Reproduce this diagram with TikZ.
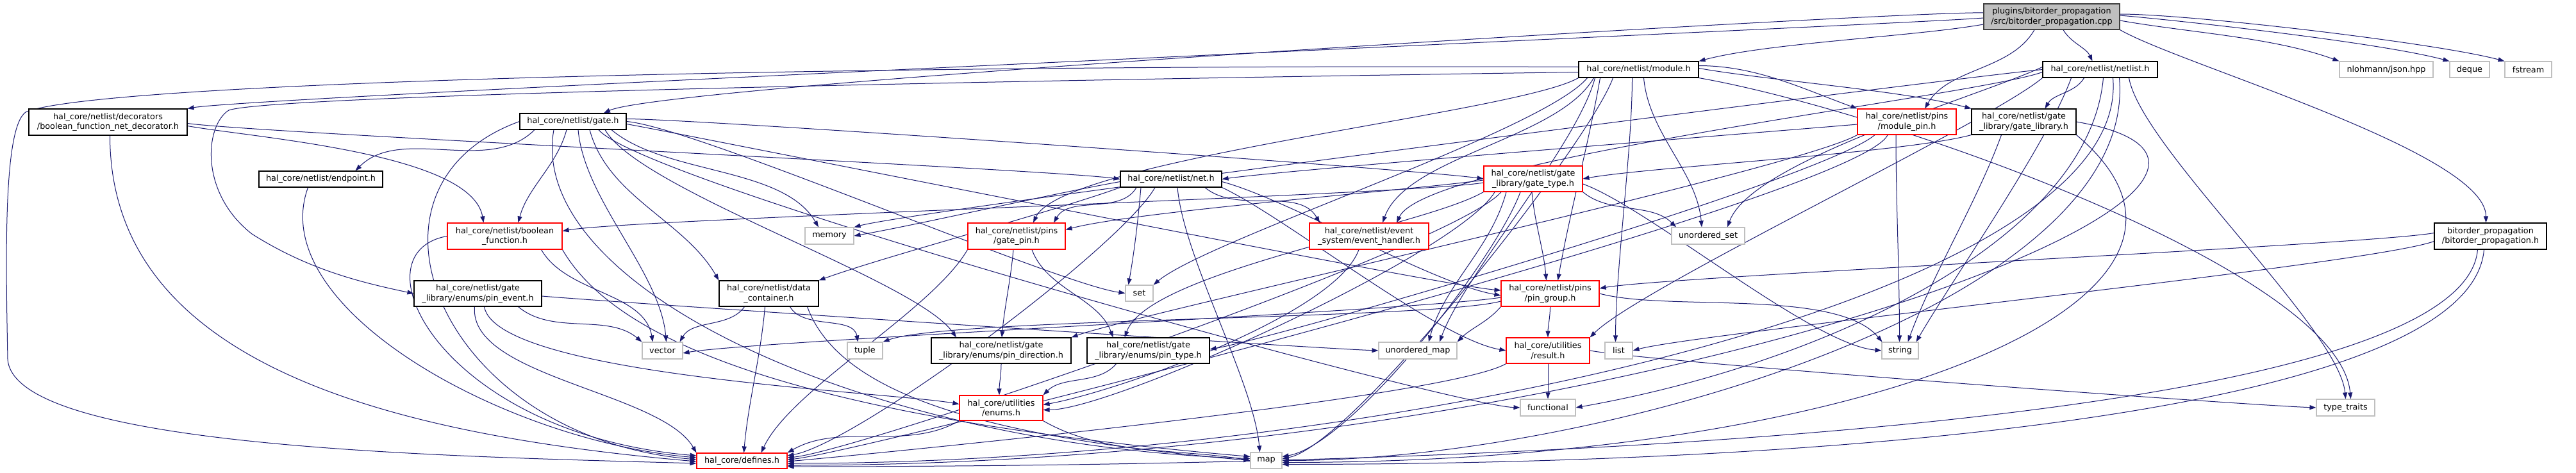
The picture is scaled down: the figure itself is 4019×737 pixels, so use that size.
\documentclass[tikz,border=0pt]{standalone}
\usepackage{fontspec}
\setmainfont{DejaVu Sans}
\usetikzlibrary{arrows.meta,calc}
\definecolor{edgec}{HTML}{191970}
\definecolor{lgray}{HTML}{BFBFBF}
\newcommand\nf{\fontsize{12.8}{15.5}\selectfont}
\newcommand\N[7]{\node[box,#6,minimum width={(#4-#2)*1pt},minimum height={(#5-#3)*1pt}] (#1) at ({(#2+#4)/2},{(#3+#5)/2}) {#7};}
\NewDocumentCommand\E{O{-1}O{-1}mmmm}{\draw[e] let \p1=#3, \p2=#5,
  \n1={veclen(0.01*\x2-0.01*\x1,0.01*\y2-0.01*\y1)},
  \n2={(#1<0)?min(35*\n1,110):#1},
  \n3={(#2<0)?min(35*\n1,110):#2} in
  (\p1) .. controls ({\x1+\n2*cos(#4)},{\y1+\n2*sin(#4)}) and ({\x2+\n3*cos(#6)},{\y2+\n3*sin(#6)}) .. (\p2);}
\pgfdeclarelayer{bg}
\pgfsetlayers{bg,main}
\begin{document}
\begin{tikzpicture}[x=1pt,y=-1pt,
  box/.style={draw,rectangle,inner sep=0pt,align=center,font=\nf,line width=1.1pt,fill=white,text=black},
  kbox/.style={draw=black},
  rbox/.style={draw=red},
  gbox/.style={draw=lgray},
  cbox/.style={draw=black!75,fill=lgray},
  e/.style={draw=edgec,line width=1pt,-{Triangle[length=10pt,width=7pt]}}]
\begin{pgfonlayer}{bg}
\fill[white] (0,0) rectangle (4019,737);
\end{pgfonlayer}
\useasboundingbox (0,0) rectangle (4019,737);
% nodes
\N{cpp}{3095}{6}{3307}{46}{cbox}{plugins/bitorder\_propagation\\/src/bitorder\_propagation.cpp}
\N{module}{2463}{96}{2650}{121}{kbox}{hal\_core/netlist/module.h}
\N{netlist}{3187}{96}{3366}{121}{kbox}{hal\_core/netlist/netlist.h}
\N{json}{3650}{96}{3796}{121}{gbox}{nlohmann/json.hpp}
\N{deque}{3822}{96}{3884}{121}{gbox}{deque}
\N{fstream}{3908}{96}{3981}{121}{gbox}{fstream}
\N{decorator}{45}{170}{292}{211}{kbox}{hal\_core/netlist/decorators\\/boolean\_function\_net\_decorator.h}
\N{gate}{811}{177}{977}{202}{kbox}{hal\_core/netlist/gate.h}
\N{modulepin}{2898}{170}{3052}{210}{rbox}{hal\_core/netlist/pins\\/module\_pin.h}
\N{gatelib}{3076}{170}{3239}{210}{kbox}{hal\_core/netlist/gate\\\_library/gate\_library.h}
\N{endpoint}{404}{267}{597}{292}{kbox}{hal\_core/netlist/endpoint.h}
\N{net}{1748}{267}{1906}{292}{kbox}{hal\_core/netlist/net.h}
\N{gatetype}{2315}{259}{2469}{299}{rbox}{hal\_core/netlist/gate\\\_library/gate\_type.h}
\N{bith}{3798}{348}{3973}{389}{kbox}{bitorder\_propagation\\/bitorder\_propagation.h}
\N{boolfn}{698}{348}{877}{389}{rbox}{hal\_core/netlist/boolean\\\_function.h}
\N{memory}{1256}{355}{1332}{381}{gbox}{memory}
\N{gatepin}{1510}{348}{1662}{389}{rbox}{hal\_core/netlist/pins\\/gate\_pin.h}
\N{evh}{2043}{348}{2229}{389}{rbox}{hal\_core/netlist/event\\\_system/event\_handler.h}
\N{uset}{2608}{355}{2722}{381}{gbox}{unordered\_set}
\N{pinevent}{646}{438}{845}{478}{kbox}{hal\_core/netlist/gate\\\_library/enums/pin\_event.h}
\N{datacont}{1122}{438}{1277}{478}{kbox}{hal\_core/netlist/data\\\_container.h}
\N{set}{1756}{445}{1799}{470}{gbox}{set}
\N{pingroup}{2342}{438}{2495}{478}{rbox}{hal\_core/netlist/pins\\/pin\_group.h}
\N{vector}{1002}{534}{1065}{560}{gbox}{vector}
\N{tuple}{1322}{534}{1377}{560}{gbox}{tuple}
\N{pindir}{1453}{527}{1671}{567}{kbox}{hal\_core/netlist/gate\\\_library/enums/pin\_direction.h}
\N{pintype}{1696}{527}{1887}{567}{kbox}{hal\_core/netlist/gate\\\_library/enums/pin\_type.h}
\N{umap}{2151}{534}{2273}{560}{gbox}{unordered\_map}
\N{result}{2350}{527}{2480}{567}{rbox}{hal\_core/utilities\\/result.h}
\N{list}{2504}{534}{2547}{560}{gbox}{list}
\N{string}{2936}{534}{2993}{560}{gbox}{string}
\N{enums}{1497}{617}{1627}{656}{rbox}{hal\_core/utilities\\/enums.h}
\N{functional}{2372}{623}{2458}{649}{gbox}{functional}
\N{typetraits}{3614}{623}{3705}{649}{gbox}{type\_traits}
\N{defines}{1087}{707}{1228}{731}{rbox}{hal\_core/defines.h}
\N{map}{1951}{706}{2000}{731}{gbox}{map}
% edges
\begin{pgfonlayer}{bg}
% cpp
\E{([yshift=-2pt]cpp.west)}{185}{(decorator.north east)}{10}
\E{([yshift=6pt]cpp.west)}{178}{([xshift=48pt]gate.north)}{25}
\E{([yshift=-12pt]cpp.west)}{190}{(module.north east)}{15}
\E{([xshift=18pt]cpp.south)}{-60}{([xshift=-12pt]netlist.north)}{115}
\E{([xshift=-27pt]cpp.south)}{-120}{([xshift=28pt]modulepin.north)}{60}
\E{([yshift=-6pt]cpp.east)}{-10}{(json.north west)}{160}
\E{([yshift=2pt]cpp.east)}{-5}{(deque.north west)}{165}
\E{([yshift=4pt]cpp.east)}{0}{(fstream.north west)}{165}
\E{(cpp.south east)}{-30}{([xshift=-7pt]bith.north)}{90}
% module
\draw[e] ([yshift=4pt]module.west) .. controls (1300,100) and (150,128) .. (40,175) .. controls (5,200) and (9,400) .. (12,560) .. controls (20,700) and (700,712) .. ([yshift=-4pt]defines.west);
\draw[e] ([yshift=-4pt]module.west) .. controls (1400,128) and (420,150) .. (357,172) .. controls (320,195) and (310,300) .. (393,365) .. controls (480,420) and (560,440) .. (pinevent.west);
\E{([xshift=-70pt]module.south)}{-120}{([xshift=21pt]evh.north)}{70}
\E{([yshift=2pt]module.east)}{-10}{(gatelib.north west)}{165}
\E{([yshift=6pt]module.east)}{0}{(modulepin.north west)}{160}
\E{([xshift=-60pt]module.south)}{-100}{([xshift=12pt]pingroup.north)}{80}
\E{(module.south west)}{-150}{([xshift=26pt]gatepin.north)}{65}
\E{([xshift=-80pt]module.south)}{-130}{(set.north east)}{40}
\E{([xshift=-68pt]module.south)}{-105}{([xshift=34pt]umap.north)}{70}
\E{([xshift=8pt]module.south)}{-85}{([xshift=-10pt]uset.north)}{95}
\E{([xshift=-10pt]module.south)}{-90}{([xshift=-5pt]list.north)}{90}
\E[300][200]{(module.south east)}{-10}{([xshift=8pt]typetraits.north)}{95}
\E{([xshift=-40pt]module.south)}{-110}{([yshift=3pt]map.east)}{10}
% netlist
\E{([xshift=-25pt]netlist.south)}{-120}{([xshift=33pt]gatelib.north)}{60}
\E{([yshift=-4pt]netlist.west)}{200}{([xshift=43pt]evh.north)}{65}
\E{([yshift=4pt]netlist.west)}{205}{([xshift=30pt]uset.north)}{70}
\E{(netlist.west)}{185}{(memory.north east)}{15}
\E{(netlist.south west)}{-140}{(result.north east)}{45}
\E{([xshift=-45pt]netlist.south)}{-110}{([xshift=25pt]string.north)}{60}
\E[250][400]{([xshift=5pt]netlist.south)}{-95}{(functional.east)}{10}
\E{([xshift=45pt]netlist.south)}{-80}{(typetraits.north)}{95}
\E[350][900]{([xshift=20pt]netlist.south)}{-85}{([yshift=-4pt]defines.east)}{0}
\E[350][500]{([xshift=30pt]netlist.south)}{-85}{(map.east)}{0}
% decorator
\E{([yshift=-6pt]decorator.east)}{-10}{([xshift=-33pt]boolfn.north)}{100}
\E{([yshift=-2pt]decorator.east)}{-8}{(net.west)}{172}
\E[350][500]{([xshift=3pt]decorator.south)}{-90}{([yshift=-1pt]defines.west)}{175}
% gate
\E{([xshift=-60pt]gate.south)}{-135}{([xshift=54pt]endpoint.north)}{45}
\E{([xshift=-10pt]gate.south)}{-105}{([xshift=21pt]boolfn.north)}{75}
\E{([xshift=60pt]gate.south)}{-40}{([xshift=-17pt]memory.north)}{120}
\E{([yshift=4pt]gate.east)}{0}{(gatetype.west)}{172}
\E{([xshift=26pt]gate.south)}{-75}{(datacont.north west)}{120}
\E{(gate.east)}{-5}{(set.west)}{172}
\E{([yshift=-4pt]gate.east)}{-10}{([yshift=5pt]pingroup.west)}{175}
\E{([xshift=8pt]gate.south)}{-85}{([xshift=6pt]vector.north)}{95}
\E{([xshift=40pt]gate.south)}{-50}{(functional.west)}{178}
\E[300][400]{(gate.west)}{200}{([yshift=2pt]defines.west)}{175}
\E[250][600]{([xshift=-30pt]gate.south)}{-100}{([yshift=3pt]map.west)}{178}
\E{([xshift=50pt]gate.south)}{-60}{([xshift=-70pt]pindir.north)}{125}
% endpoint
\E[200][300]{([xshift=-20pt]endpoint.south)}{-110}{([yshift=5pt]defines.west)}{175}
% boolfn
\E{([xshift=57pt]boolfn.south)}{-60}{([xshift=-15pt]vector.north)}{100}
\E[150][400]{(boolfn.west)}{190}{([yshift=8pt]defines.west)}{175}
\E[200][600]{(boolfn.south east)}{-60}{([yshift=6pt]map.west)}{175}
% pinevent
\E{([xshift=63pt]pinevent.south)}{-40}{(vector.north west)}{140}
\E{([xshift=10pt]pinevent.south)}{-80}{([yshift=6pt]enums.west)}{170}
\E{([xshift=-5pt]pinevent.south)}{-95}{(defines.north west)}{120}
\E{([yshift=-4pt]pinevent.east)}{-5}{(umap.west)}{178}
% datacont
\E{([xshift=-38pt]datacont.south)}{-125}{([xshift=27pt]vector.north)}{60}
\E{([xshift=33pt]datacont.south)}{-60}{([xshift=-11pt]tuple.north)}{100}
\E{([xshift=-6pt]datacont.south)}{-95}{([xshift=3pt]defines.north)}{85}
\E[150][400]{([xshift=60pt]datacont.south)}{-70}{(map.west)}{175}
% net
\E{([yshift=-4pt]net.west)}{190}{(memory.east)}{10}
\E{([xshift=-54pt]net.south)}{-120}{([xshift=58pt]gatepin.north)}{60}
\E{([xshift=53pt]net.south)}{-40}{([xshift=-77pt]evh.north)}{120}
\E{(net.south west)}{200}{(datacont.north east)}{20}
\E{([xshift=-47pt]net.south)}{-95}{([xshift=-17pt]set.north)}{80}
\E{([yshift=-4pt]net.east)}{-15}{([yshift=-3pt]pingroup.west)}{170}
\E{(net.south east)}{-25}{(result.west)}{170}
\E{([xshift=10pt]net.south)}{-85}{([xshift=-10pt]map.north)}{95}
\E{([xshift=-25pt]net.south)}{-120}{([yshift=8pt]defines.east)}{10}
% gatetype
\E{([yshift=-6pt]gatetype.west)}{190}{([yshift=8pt]boolfn.east)}{10}
\E{([yshift=-2pt]gatetype.west)}{188}{([yshift=10pt]gatepin.east)}{15}
\E{(gatetype.south east)}{-40}{([xshift=-50pt]uset.north)}{135}
\E{([xshift=-2pt]gatetype.south)}{-85}{([xshift=-6pt]pingroup.north)}{95}
\E{([xshift=-42pt]gatetype.south)}{-105}{([xshift=17pt]umap.north)}{75}
\E{([yshift=-8pt]gatetype.east)}{-20}{(string.west)}{175}
\E{(gatetype.south west)}{-150}{([xshift=-37pt]pintype.north)}{70}
\E{([xshift=-60pt]gatetype.south)}{-120}{([yshift=-3pt]enums.east)}{0}
\E{([xshift=-50pt]gatetype.south)}{-130}{([yshift=5pt]defines.east)}{5}
\E{([xshift=-20pt]gatetype.south)}{-110}{([yshift=6pt]map.east)}{10}
% gatelib
\E{(gatelib.south west)}{195}{(gatetype.east)}{10}
\E{([xshift=-35pt]gatelib.south)}{-110}{([xshift=12pt]string.north)}{70}
\E[500][1300]{(gatelib.east)}{-10}{([yshift=-7pt]defines.east)}{0}
\E[400][900]{(gatelib.south east)}{-40}{([yshift=-3pt]map.east)}{0}
% modulepin
\E{([yshift=-4pt]modulepin.west)}{185}{(net.east)}{8}
\E{([xshift=-17pt]modulepin.south)}{-90}{([xshift=-1pt]string.north)}{90}
\E{(modulepin.south west)}{-150}{(pindir.north east)}{20}
\E{([xshift=-50pt]modulepin.south)}{-140}{([yshift=2pt]pintype.east)}{10}
\E{([xshift=-30pt]modulepin.south)}{-115}{([yshift=2pt]defines.east)}{5}
% bith
\E{([yshift=5pt]bith.west)}{190}{([yshift=8pt]pingroup.east)}{10}
\E{([yshift=-8pt]bith.west)}{200}{(list.east)}{15}
\E[250][1400]{([xshift=-20pt]bith.south)}{-95}{([yshift=-9pt]defines.east)}{0}
\E[250][900]{([xshift=-10pt]bith.south)}{-95}{([yshift=-6pt]map.east)}{0}
% gatepin
\E{([xshift=-5pt]gatepin.south)}{-95}{([xshift=1pt]pindir.north)}{85}
\E{([xshift=24pt]gatepin.south)}{-70}{([xshift=-55pt]pintype.north)}{110}
\E{(gatepin.south west)}{-120}{([xshift=30pt]defines.north)}{65}
% evh
\E{([xshift=-16pt]evh.south)}{-110}{([yshift=5pt]enums.east)}{10}
% pingroup
\E{([yshift=-6pt]pingroup.west)}{190}{([yshift=-4pt]vector.east)}{10}
\E{([yshift=-12pt]pingroup.west)}{195}{(tuple.north east)}{20}
\E{(pingroup.south west)}{-130}{(umap.north east)}{45}
\E{(pingroup.south)}{-90}{(result.north)}{90}
\E{(pingroup.east)}{-15}{([xshift=-28pt]string.north)}{130}
% result
\E{(result.south)}{-90}{(functional.north)}{90}
\E{(result.east)}{-10}{(typetraits.west)}{178}
\E{(result.south west)}{-150}{([yshift=-1pt]defines.east)}{5}
% enums, pindir, pintype
\E{(enums.south west)}{-150}{(defines.north east)}{30}
\E{(enums.south east)}{-30}{(map.west)}{170}
\E{(pindir.south)}{-90}{([xshift=-3pt]enums.north)}{90}
\E{([xshift=-50pt]pintype.south)}{-130}{(enums.north east)}{45}
\end{pgfonlayer}
\end{tikzpicture}
\end{document}
